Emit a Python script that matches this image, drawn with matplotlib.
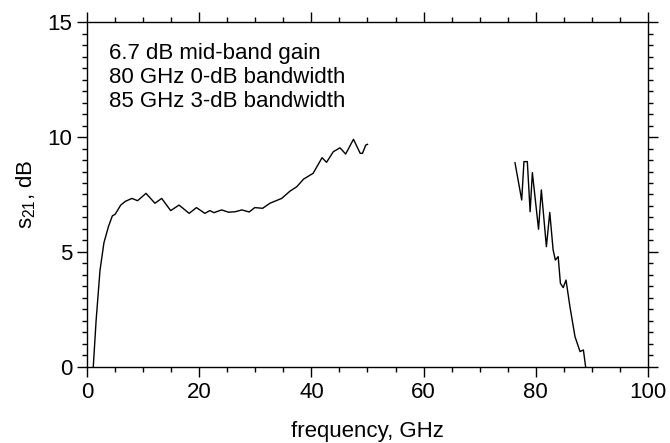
import matplotlib.pyplot as plt
from matplotlib.ticker import MultipleLocator

plt.rcParams['font.family'] = ['Liberation Sans', 'DejaVu Sans']
plt.rcParams['mathtext.default'] = 'regular'

# measured s21, low-band segment
f_low = [1.1, 1.6, 2.3, 3.0, 3.8, 4.5, 5.0, 6.0, 6.8, 8.0, 9.0, 10.5, 12.1, 13.3,
         14.9, 16.4, 18.2, 19.5, 21.0, 21.9, 22.6, 24.0, 25.2, 26.4, 27.6, 28.9,
         29.9, 31.3, 32.6, 34.7, 36.2, 37.4, 38.6, 40.3, 41.9, 42.7, 43.9, 45.1,
         46.1, 47.5, 48.7, 49.1, 49.7, 50.0]
s21_low = [0.0, 2.0, 4.2, 5.4, 6.1, 6.57, 6.64, 7.04, 7.2, 7.33, 7.23, 7.55, 7.12, 7.33,
           6.8, 7.04, 6.68, 6.93, 6.68, 6.8, 6.71, 6.83, 6.73, 6.75, 6.83, 6.74,
           6.93, 6.9, 7.12, 7.33, 7.65, 7.84, 8.17, 8.42, 9.1, 8.9, 9.36, 9.53,
           9.26, 9.9, 9.29, 9.29, 9.65, 9.68]

# high-band segment
f_high = [76.3, 77.5, 77.9, 78.5, 79.0, 79.4, 80.5, 81.0, 81.9, 82.5, 83.1, 83.5,
          84.0, 84.4, 84.9, 85.4, 86.1, 87.0, 87.9, 88.5, 88.9]
s21_high = [8.88, 7.26, 8.93, 8.93, 6.75, 8.45, 5.99, 7.7, 5.23, 6.72, 5.09, 4.65,
            4.8, 3.64, 3.45, 3.78, 2.62, 1.32, 0.67, 0.74, 0.0]

notes = ["6.7 dB mid-band gain", "80 GHz 0-dB bandwidth", "85 GHz 3-dB bandwidth"]

fig = plt.figure(figsize=(6.7, 4.43), dpi=100)
ax = fig.add_axes([0.13, 0.1716, 0.837, 0.7787])

ax.plot(f_low, s21_low, color="black", linewidth=1)
ax.plot(f_high, s21_high, color="black", linewidth=1)

ax.set_xlim(0, 100)
ax.set_ylim(0, 15)
ax.xaxis.set_major_locator(MultipleLocator(20))
ax.xaxis.set_minor_locator(MultipleLocator(5))
ax.yaxis.set_major_locator(MultipleLocator(5))
ax.yaxis.set_minor_locator(MultipleLocator(0.5))
ax.tick_params(which="both", direction="out", top=True, right=True,
               labeltop=False, labelright=False, width=1, labelsize=16)
ax.tick_params(which="major", length=7.2, pad=3.5)
ax.tick_params(which="minor", length=3.6)
for s in ax.spines.values():
    s.set_linewidth(1)

ax.text(3.9, 14.1, "\n".join(notes), fontsize=16, va="top", ha="left",
        linespacing=1.2)

ax.set_xlabel("frequency, GHz", fontsize=16, labelpad=13)
ax.set_ylabel("s$_{21}$, dB", fontsize=16, labelpad=7)

fig.savefig("out.png", dpi=100)
